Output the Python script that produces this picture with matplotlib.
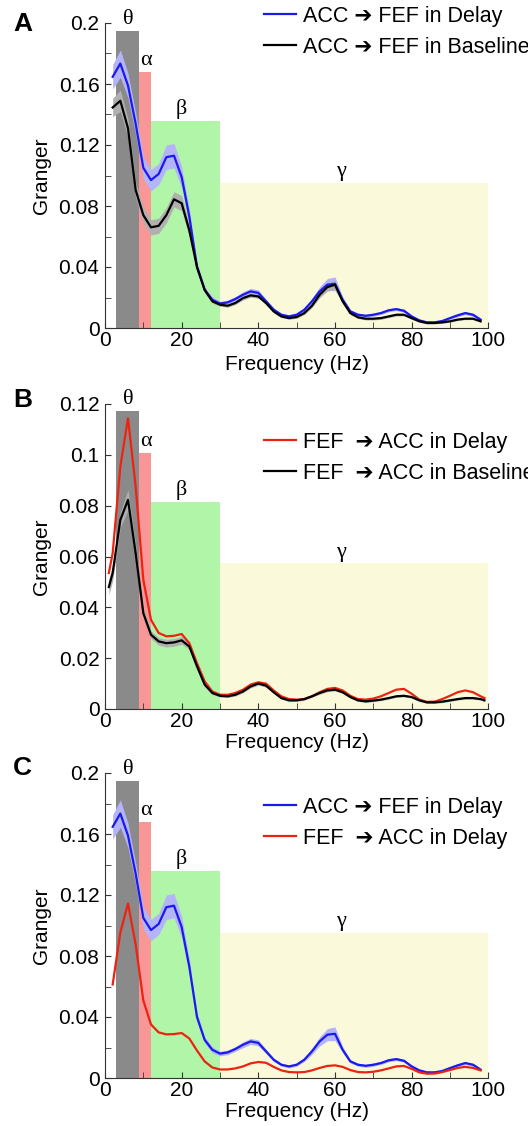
import numpy as np
import matplotlib
matplotlib.use("Agg")
import matplotlib.pyplot as plt
from matplotlib.ticker import MultipleLocator, FuncFormatter

plt.rcParams['font.family'] = ['Liberation Sans', 'DejaVu Sans']
plt.rcParams['font.size'] = 15

# frequency grid (Hz)
freqs = np.arange(2, 100, 2)
freqs_b = np.array([1] + list(range(2, 100, 2)) + [99])

# ACC -> FEF in Delay
acc_fef_delay = [0.1647, 0.1734, 0.159, 0.134, 0.105, 0.097, 0.101, 0.112, 0.113, 0.099,
                 0.073, 0.040, 0.025, 0.0185, 0.016, 0.0168, 0.019, 0.0218, 0.024, 0.023,
                 0.0175, 0.012, 0.0087, 0.0076, 0.0087, 0.012, 0.0175, 0.024, 0.0284, 0.029,
                 0.0185, 0.0109, 0.0087, 0.008, 0.0087, 0.0098, 0.0116, 0.0124, 0.0113, 0.0076,
                 0.005, 0.0037, 0.0037, 0.0046, 0.0065, 0.0083, 0.0098, 0.0087, 0.0055]
acc_fef_delay_sem = [0.008, 0.009, 0.008, 0.007, 0.007, 0.007, 0.007, 0.008, 0.008, 0.007,
                     0.005, 0.003, 0.002, 0.002, 0.0015, 0.0015, 0.0015, 0.002, 0.002, 0.002,
                     0.0015, 0.0012, 0.001, 0.001, 0.001, 0.0012, 0.002, 0.003, 0.004, 0.0045,
                     0.002, 0.0012, 0.001, 0.001, 0.001, 0.001, 0.001, 0.001, 0.001, 0.001,
                     0.0008, 0.0008, 0.0008, 0.0008, 0.0008, 0.001, 0.001, 0.001, 0.0008]

# ACC -> FEF in Baseline
acc_fef_base = [0.1446, 0.149, 0.131, 0.0905, 0.074, 0.066, 0.067, 0.074, 0.0844, 0.0818,
                0.064, 0.040, 0.025, 0.0175, 0.0153, 0.0146, 0.0164, 0.0196, 0.0214, 0.0207,
                0.0164, 0.0109, 0.0076, 0.0065, 0.0072, 0.0098, 0.0146, 0.0218, 0.0268, 0.0284,
                0.0175, 0.0098, 0.007, 0.0061, 0.0061, 0.0065, 0.0076, 0.0087, 0.0087, 0.0065,
                0.0044, 0.0033, 0.0033, 0.0037, 0.0044, 0.0055, 0.0061, 0.0061, 0.0044]
acc_fef_base_sem = [0.006, 0.007, 0.006, 0.005, 0.005, 0.005, 0.005, 0.005, 0.005, 0.005,
                    0.004, 0.002, 0.0015, 0.0012, 0.001, 0.001, 0.001, 0.0012, 0.0012, 0.0012,
                    0.001, 0.001, 0.0008, 0.0008, 0.0008, 0.001, 0.0012, 0.002, 0.0025, 0.003,
                    0.0015, 0.001, 0.0008, 0.0008, 0.0008, 0.0008, 0.0008, 0.0008, 0.0008, 0.0008,
                    0.0006, 0.0006, 0.0006, 0.0006, 0.0006, 0.0006, 0.0006, 0.0006, 0.0006]

# FEF -> ACC in Delay
fef_acc_delay = [0.0535, 0.0613, 0.0954, 0.1144, 0.0875, 0.0508, 0.0351, 0.0299, 0.0286, 0.0288,
                 0.0295, 0.0259, 0.018, 0.0109, 0.0069, 0.0056, 0.0056, 0.0063, 0.0076, 0.0096,
                 0.0105, 0.010, 0.0073, 0.005, 0.0039, 0.0037, 0.0039, 0.005, 0.0066, 0.0079,
                 0.0083, 0.0073, 0.0052, 0.0039, 0.0037, 0.0041, 0.005, 0.0063, 0.0076, 0.0079,
                 0.006, 0.0037, 0.0028, 0.0029, 0.0039, 0.0052, 0.0066, 0.0073, 0.0066, 0.005,
                 0.0043]

# FEF -> ACC in Baseline
fef_acc_base = [0.048, 0.0535, 0.0744, 0.0823, 0.0613, 0.0377, 0.0292, 0.0266, 0.0259, 0.0262,
                0.027, 0.0246, 0.0168, 0.0096, 0.0063, 0.0052, 0.005, 0.0056, 0.0069, 0.0089,
                0.010, 0.0092, 0.0066, 0.0043, 0.0034, 0.0034, 0.0039, 0.005, 0.0063, 0.0073,
                0.0076, 0.0066, 0.0047, 0.0034, 0.003, 0.0033, 0.0037, 0.0043, 0.005, 0.0052,
                0.0047, 0.0034, 0.0026, 0.0026, 0.0029, 0.0034, 0.0039, 0.0043, 0.0043, 0.0039,
                0.0034]
fef_acc_base_sem = [0.003, 0.003, 0.003, 0.004, 0.003, 0.002, 0.0015, 0.0015, 0.0015, 0.0015,
                    0.0015, 0.0012, 0.001, 0.0008, 0.0006, 0.0005, 0.0005, 0.0005, 0.0005, 0.0006,
                    0.0006, 0.0006, 0.0005, 0.0004, 0.0004, 0.0004, 0.0004, 0.0004, 0.0005, 0.0005,
                    0.0005, 0.0005, 0.0004, 0.0004, 0.0004, 0.0004, 0.0004, 0.0004, 0.0004, 0.0004,
                    0.0004, 0.0004, 0.0004, 0.0004, 0.0004, 0.0004, 0.0004, 0.0004, 0.0004, 0.0004,
                    0.0004]

# frequency bands: edges (Hz), labels, colours
band_edges = [3, 9, 12, 30, 100]
band_names = ['θ', 'α', 'β', 'γ']
band_label_x = [6, 10.6, 20, 61.5]
band_colors = ['#8a8a8a', '#f99696', '#b0f5a8', '#fafadb']
band_tops_a = [0.195, 0.168, 0.136, 0.0953]
band_tops_b = [0.1174, 0.1008, 0.0816, 0.0574]
band_tops_c = [0.195, 0.168, 0.136, 0.0953]

BLUE = '#1a1aee'
RED = '#ee2211'
BLACK = '#000000'

fig = plt.figure(figsize=(5.28, 11.26), dpi=100)
ax_w = 383.3 / 528
ax_h = 305 / 1126
axA = fig.add_axes([105 / 528, 1 - 328 / 1126, ax_w, ax_h])
axB = fig.add_axes([105 / 528, 1 - 709 / 1126, ax_w, ax_h])
axC = fig.add_axes([105 / 528, 1 - 1078 / 1126, ax_w, ax_h])


def draw_bands(ax, tops):
    lefts = band_edges[:-1]
    widths = np.diff(band_edges)
    ax.bar(lefts, tops, width=widths, align='edge', color=band_colors, linewidth=0, zorder=0)
    for name, x, top in zip(band_names, band_label_x, tops):
        ax.annotate(name, (x, top), xytext=(0, 1), textcoords='offset points',
                    ha='center', va='bottom', fontsize=16,
                    family=['Liberation Serif', 'DejaVu Serif'])


def draw_curve(ax, x, y, sem, color, shade, label):
    y = np.asarray(y)
    if sem is not None:
        sem = np.asarray(sem)
        ax.fill_between(x, y - sem, y + sem, color=shade, linewidth=0, zorder=1)
    ax.plot(x, y, color=color, lw=1.6, label=label, zorder=2)


def style_axes(ax, ymax, ymajor, yminor, xlabel_y):
    ax.set_xlim(0, 100)
    ax.set_ylim(0, ymax)
    for s in ['top', 'right']:
        ax.spines[s].set_visible(False)
    ax.spines['left'].set_color('#333333')
    ax.spines['bottom'].set_color('#333333')
    ax.xaxis.set_major_locator(MultipleLocator(20))
    ax.xaxis.set_minor_locator(MultipleLocator(10))
    ax.yaxis.set_major_locator(MultipleLocator(ymajor))
    if yminor:
        ax.yaxis.set_minor_locator(MultipleLocator(yminor))
    ax.yaxis.set_major_formatter(FuncFormatter(lambda v, p: '%g' % round(v, 4)))
    ax.tick_params(which='both', direction='in', color='#333333', labelsize=15)
    ax.tick_params(axis='y', pad=4)
    ax.tick_params(axis='x', pad=2.5)
    ax.tick_params(which='major', length=4)
    ax.tick_params(which='minor', length=4)
    ax.set_xlabel('Frequency (Hz)', fontsize=15)
    ax.set_ylabel('Granger', fontsize=15)
    ax.yaxis.set_label_coords(-0.14, 0.5)
    ax.xaxis.set_label_coords(0.5, xlabel_y)


def add_legend(ax, y_fig):
    ax.legend(loc='upper left', bbox_to_anchor=(264 / 528, y_fig), bbox_transform=fig.transFigure,
              frameon=False, handlelength=1.5, handletextpad=0.3, labelspacing=0.45,
              borderaxespad=0, borderpad=0,
              prop=dict(family=['Liberation Sans', 'DejaVu Sans'], size=15.5))


# A: ACC -> FEF, delay vs baseline
draw_bands(axA, band_tops_a)
draw_curve(axA, freqs, acc_fef_delay, acc_fef_delay_sem, BLUE, '#b4b4f8', 'ACC ➔ FEF in Delay')
draw_curve(axA, freqs, acc_fef_base, acc_fef_base_sem, BLACK, '#b0b0b0', 'ACC ➔ FEF in Baseline')
style_axes(axA, 0.2, 0.04, 0.02, -0.088)
add_legend(axA, 1 - 6 / 1126)

# B: FEF -> ACC, delay vs baseline
draw_bands(axB, band_tops_b)
draw_curve(axB, freqs_b, fef_acc_delay, None, RED, None, 'FEF  ➔ ACC in Delay')
draw_curve(axB, freqs_b, fef_acc_base, fef_acc_base_sem, BLACK, '#b0b0b0', 'FEF  ➔ ACC in Baseline')
style_axes(axB, 0.12, 0.02, None, -0.08)
add_legend(axB, 1 - 432 / 1126)

# C: delay, both directions
draw_bands(axC, band_tops_c)
draw_curve(axC, freqs, acc_fef_delay, acc_fef_delay_sem, BLUE, '#b4b4f8', 'ACC ➔ FEF in Delay')
draw_curve(axC, freqs, fef_acc_delay[1:-1], None, RED, None, 'FEF  ➔ ACC in Delay')
style_axes(axC, 0.2, 0.04, 0.02, -0.078)
add_legend(axC, 1 - 797 / 1126)

for letter, y in zip('ABC', [24, 400, 768]):
    fig.text(13 / 528, 1 - y / 1126, letter, fontsize=19, fontweight='bold', va='center', ha='left')

fig.savefig('out.png', dpi=100)
